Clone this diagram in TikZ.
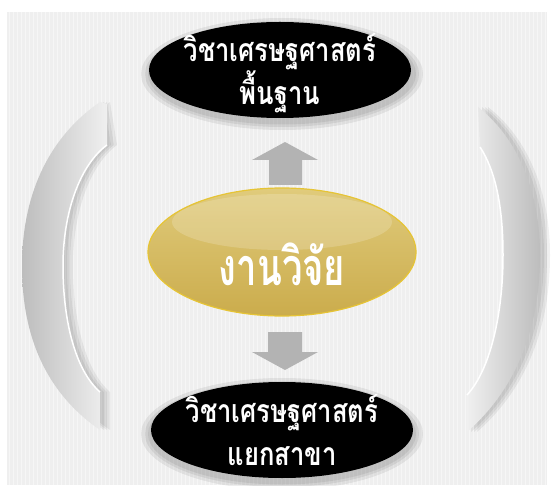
\documentclass[tikz,border=0pt]{standalone}
\usepackage{fontspec}
\newfontfamily\thaiA[Script=Thai,FakeStretch=0.8]{Loma}
\newfontfamily\thaiB[Script=Thai,FakeStretch=0.7]{Loma}
\usetikzlibrary{shapes.geometric}
\definecolor{bgc}{HTML}{EFEFEF}
\definecolor{arrowc}{HTML}{B3B3B3}
\definecolor{goldtop}{HTML}{E0CB7C}
\definecolor{goldbot}{HTML}{CBAC4C}
\definecolor{goldrim}{HTML}{E6C435}
\tikzset{
  blackell/.style={ellipse, fill=black, minimum width=262pt, minimum height=96pt, inner sep=0pt},
  goldell/.style={ellipse, top color=goldtop, bottom color=goldbot, draw=goldrim, line width=1.2pt, minimum width=268pt, minimum height=128pt, inner sep=0pt},
  whitetext/.style={text=white, font=\thaiA\bfseries\fontsize{32}{43}\selectfont, align=center},
  bigtext/.style={font=\thaiB\bfseries\fontsize{52}{60}\selectfont},
  blockarrow/.style={fill=arrowc},
  bracketL/.style={left color=black!26, right color=black!6},
  bracketR/.style={left color=black!6, right color=black!26},
  softshadow/.style={fill=black, opacity=0.06},
  highlight/.style={draw=white, line width=1.5pt},
}
\begin{document}
\begin{tikzpicture}[x=1pt,y=-1pt]
\useasboundingbox (0,0) rectangle (551,486);
\fill[white] (0,0) rectangle (551,486);
\fill[bgc] (7,12) rectangle (547,485);
\foreach \x in {9,13,...,545} \draw[white,opacity=0.45,line width=1pt] (\x,12) -- (\x,485);

% shadows of brackets
\foreach \s in {4,7,10}{
  \fill[softshadow] ([xshift=\s pt]100,102) .. controls +(-55,38) and +(0,-66) .. ([xshift=\s pt]22,266) .. controls +(0,69) and +(-55,-38) .. ([xshift=\s pt]100,430) -- ([xshift=\s pt]100,392) .. controls +(-25,-22) and +(0,54) .. ([xshift=\s pt]63,266) .. controls +(0,-54) and +(-27,20) .. ([xshift=\s pt]107,145) -- cycle;
  \fill[softshadow] ([xshift=\s pt]478,107) .. controls +(42,33) and +(0,-60) .. ([xshift=\s pt]540,255) .. controls +(0,75) and +(48,-42) .. ([xshift=\s pt]467,432) -- ([xshift=\s pt]467,395) .. controls +(23,-25) and +(0,60) .. ([xshift=\s pt]503,255) .. controls +(0,-50) and +(15,23) .. ([xshift=\s pt]480,147) -- cycle;
}
% left bracket
\path[bracketL] (100,102) .. controls (45,140) and (22,200) .. (22,266) .. controls (22,335) and (45,392) .. (100,430) -- (100,392) .. controls (75,370) and (63,320) .. (63,266) .. controls (63,212) and (80,165) .. (107,145) -- (107,104) -- cycle;
\draw[highlight] (100,392) .. controls (75,370) and (63,320) .. (63,266) .. controls (63,212) and (80,165) .. (107,145);
% right bracket
\path[bracketR] (478,107) .. controls (520,140) and (540,195) .. (540,255) .. controls (540,330) and (515,390) .. (467,432) -- (467,395) .. controls (490,370) and (503,315) .. (503,255) .. controls (503,205) and (495,170) .. (480,147) -- cycle;
\draw[highlight] (467,395) .. controls (490,370) and (503,315) .. (503,255) .. controls (503,205) and (495,170) .. (480,147);

% glows of ellipses
\foreach \w/\h in {282/112,274/106,268/101}{
  \fill[black,opacity=0.07] (282,74) ellipse [x radius=\w/2, y radius=\h/2];
  \fill[black,opacity=0.07] (282,434) ellipse [x radius=\w/2, y radius=\h/2];
}

\node[blackell] (top) at (280,70) {};
\node[blackell] (bot) at (282,430) {};
\node[goldell] (mid) at (282,252) {};
\fill[white,opacity=0.18] (282,222) ellipse [x radius=110, y radius=28];

\node[whitetext] (toptext) at ([yshift=-3pt]top.center) {วิชาเศรษฐศาสตร์\\พื้นฐาน};
\node[whitetext] (bottext) at (bot.center) {วิชาเศรษฐศาสตร์\\แยกสาขา};
\node[bigtext, text=white] (midtext) at ([yshift=-12pt]mid.center) {งานวิจัย};

% block arrows
\fill[blockarrow] (285,142) -- (318,160) -- (302,160) -- (302,185) -- (269,185) -- (269,160) -- (252,160) -- cycle;
\fill[blockarrow] (268,332) -- (302,332) -- (302,352) -- (318,352) -- (285,370) -- (252,352) -- (268,352) -- cycle;
\end{tikzpicture}
\end{document}
